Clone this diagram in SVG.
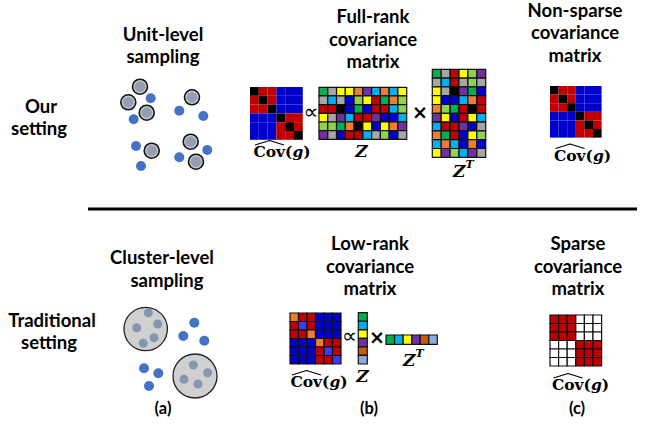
<svg xmlns="http://www.w3.org/2000/svg" xmlns:xlink="http://www.w3.org/1999/xlink" width="650" height="430" viewBox="0 0 650 430">
<style>
.t{font-family:Lato,"Liberation Sans",sans-serif;font-weight:bold;font-size:18.5px;fill:#000;text-anchor:middle}
.lab{font-family:Lato,"Liberation Sans",sans-serif;font-weight:bold;font-size:16.5px;fill:#000;text-anchor:middle}
.m{font-family:"DejaVu Serif","Liberation Serif",serif;font-weight:bold;font-size:15.5px;fill:#000;text-anchor:middle}
.zi{font-family:"DejaVu Serif","Liberation Serif",serif;font-weight:bold;font-style:italic;font-size:17px;fill:#000}
.op{font-family:"DejaVu Sans",sans-serif;font-size:21px;fill:#000;text-anchor:middle}
.x{font-family:"DejaVu Sans",sans-serif;font-weight:bold;font-size:19px;fill:#000;text-anchor:middle}
.hat{fill:none;stroke:#000;stroke-width:1.3;stroke-linejoin:round}
.cells rect{stroke:#111;stroke-width:1.2;vector-effect:non-scaling-stroke}
.k{fill:#000}.r{fill:#c00000}.b{fill:#0000cc}.B{fill:#3a3aff}.o{fill:#ed7d31}.O{fill:#c55a11}
.g{fill:#00b050}.l{fill:#92d050}.y{fill:#ffff00}.p{fill:#7030a0}.c{fill:#00b0f0}.s{fill:#a6a6a6}
.L{fill:#8eaadb}.w{fill:#fff}
.dot{fill:#4472c4}
.unit{fill:#c9c9c9;stroke:#111;stroke-width:1.6}
.unitIn{fill:#949eb5}
.clu{fill:#d0d0d0;stroke:#222;stroke-width:1.3}
.cin{fill:#8497b0}
</style>
<defs>
<g id="covFullCells">
<rect x="0" y="0" width="1" height="1" class="k"/><rect x="1" y="0" width="1" height="1" class="r"/><rect x="2" y="0" width="1" height="1" class="r"/><rect x="3" y="0" width="1" height="1" class="b"/><rect x="4" y="0" width="1" height="1" class="b"/><rect x="5" y="0" width="1" height="1" class="b"/>
<rect x="0" y="1" width="1" height="1" class="r"/><rect x="1" y="1" width="1" height="1" class="k"/><rect x="2" y="1" width="1" height="1" class="r"/><rect x="3" y="1" width="1" height="1" class="b"/><rect x="4" y="1" width="1" height="1" class="b"/><rect x="5" y="1" width="1" height="1" class="b"/>
<rect x="0" y="2" width="1" height="1" class="r"/><rect x="1" y="2" width="1" height="1" class="r"/><rect x="2" y="2" width="1" height="1" class="k"/><rect x="3" y="2" width="1" height="1" class="b"/><rect x="4" y="2" width="1" height="1" class="b"/><rect x="5" y="2" width="1" height="1" class="b"/>
<rect x="0" y="3" width="1" height="1" class="b"/><rect x="1" y="3" width="1" height="1" class="b"/><rect x="2" y="3" width="1" height="1" class="b"/><rect x="3" y="3" width="1" height="1" class="k"/><rect x="4" y="3" width="1" height="1" class="r"/><rect x="5" y="3" width="1" height="1" class="r"/>
<rect x="0" y="4" width="1" height="1" class="b"/><rect x="1" y="4" width="1" height="1" class="b"/><rect x="2" y="4" width="1" height="1" class="b"/><rect x="3" y="4" width="1" height="1" class="r"/><rect x="4" y="4" width="1" height="1" class="k"/><rect x="5" y="4" width="1" height="1" class="r"/>
<rect x="0" y="5" width="1" height="1" class="b"/><rect x="1" y="5" width="1" height="1" class="b"/><rect x="2" y="5" width="1" height="1" class="b"/><rect x="3" y="5" width="1" height="1" class="r"/><rect x="4" y="5" width="1" height="1" class="r"/><rect x="5" y="5" width="1" height="1" class="k"/>
</g>
<g id="covLabel">
<text class="m" x="0" y="0">Cov(<tspan font-style="italic">g</tspan>)</text>
<path class="hat" d="M-27,-12 L-12.5,-16.5 L2,-12"/>
</g>
</defs>

<!-- row headings -->
<g id="our-setting">
<text class="t" x="41" y="113">Our</text>
<text class="t" x="39" y="135">setting</text>
</g>
<g id="traditional-setting">
<text class="t" x="52" y="327">Traditional</text>
<text class="t" x="49" y="349">setting</text>
</g>

<!-- separator -->
<g id="connectors">
<line x1="88" y1="209" x2="637" y2="209" stroke="#000" stroke-width="3"/>
</g>

<!-- unit-level sampling -->
<g id="unit-level-sampling">
<text class="t" x="163" y="41">Unit-level</text>
<text class="t" x="163" y="63">sampling</text>
<circle class="unit" cx="140" cy="86.7" r="7.5"/><circle class="unitIn" cx="140" cy="86.7" r="5.4"/>
<circle class="unit" cx="128.3" cy="102.3" r="7.5"/><circle class="unitIn" cx="128.3" cy="102.3" r="5.4"/>
<circle class="unit" cx="146.7" cy="112.7" r="7.5"/><circle class="unitIn" cx="146.7" cy="112.7" r="5.4"/>
<circle class="unit" cx="192" cy="97.3" r="7.5"/><circle class="unitIn" cx="192" cy="97.3" r="5.4"/>
<circle class="unit" cx="151.7" cy="150.7" r="7.5"/><circle class="unitIn" cx="151.7" cy="150.7" r="5.4"/>
<circle class="unit" cx="190.7" cy="141.7" r="7.5"/><circle class="unitIn" cx="190.7" cy="141.7" r="5.4"/>
<circle class="unit" cx="196" cy="161.7" r="7.5"/><circle class="unitIn" cx="196" cy="161.7" r="5.4"/>
<circle class="dot" cx="150.7" cy="98.3" r="5"/>
<circle class="dot" cx="133.7" cy="119.3" r="5"/>
<circle class="dot" cx="179.3" cy="110.7" r="5"/>
<circle class="dot" cx="203.3" cy="116" r="5"/>
<circle class="dot" cx="136" cy="146" r="5"/>
<circle class="dot" cx="141" cy="166" r="5"/>
<circle class="dot" cx="179.3" cy="157.3" r="5"/>
<circle class="dot" cx="207.3" cy="150" r="5"/>
</g>

<!-- full-rank covariance -->
<g id="full-rank-covariance">
<text class="t" x="373" y="23">Full-rank</text>
<text class="t" x="373" y="46">covariance</text>
<text class="t" x="373" y="68">matrix</text>
<g class="cells" transform="translate(250,87) scale(8.8)"><use xlink:href="#covFullCells"/></g>
<use xlink:href="#covLabel" transform="translate(282,157)"/>
<text class="op" x="311" y="119">∝</text>
<g class="cells" transform="translate(319,87.3) scale(8.77,8.67)">
<rect x="0" y="0" width="1" height="1" class="g"/><rect x="1" y="0" width="1" height="1" class="s"/><rect x="2" y="0" width="1" height="1" class="y"/><rect x="3" y="0" width="1" height="1" class="y"/><rect x="4" y="0" width="1" height="1" class="o"/><rect x="5" y="0" width="1" height="1" class="p"/><rect x="6" y="0" width="1" height="1" class="c"/><rect x="7" y="0" width="1" height="1" class="o"/><rect x="8" y="0" width="1" height="1" class="c"/><rect x="9" y="0" width="1" height="1" class="y"/>
<rect x="0" y="1" width="1" height="1" class="s"/><rect x="1" y="1" width="1" height="1" class="c"/><rect x="2" y="1" width="1" height="1" class="s"/><rect x="3" y="1" width="1" height="1" class="b"/><rect x="4" y="1" width="1" height="1" class="l"/><rect x="5" y="1" width="1" height="1" class="y"/><rect x="6" y="1" width="1" height="1" class="r"/><rect x="7" y="1" width="1" height="1" class="g"/><rect x="8" y="1" width="1" height="1" class="o"/><rect x="9" y="1" width="1" height="1" class="l"/>
<rect x="0" y="2" width="1" height="1" class="r"/><rect x="1" y="2" width="1" height="1" class="r"/><rect x="2" y="2" width="1" height="1" class="k"/><rect x="3" y="2" width="1" height="1" class="b"/><rect x="4" y="2" width="1" height="1" class="g"/><rect x="5" y="2" width="1" height="1" class="b"/><rect x="6" y="2" width="1" height="1" class="r"/><rect x="7" y="2" width="1" height="1" class="r"/><rect x="8" y="2" width="1" height="1" class="c"/><rect x="9" y="2" width="1" height="1" class="l"/>
<rect x="0" y="3" width="1" height="1" class="y"/><rect x="1" y="3" width="1" height="1" class="s"/><rect x="2" y="3" width="1" height="1" class="p"/><rect x="3" y="3" width="1" height="1" class="c"/><rect x="4" y="3" width="1" height="1" class="r"/><rect x="5" y="3" width="1" height="1" class="r"/><rect x="6" y="3" width="1" height="1" class="p"/><rect x="7" y="3" width="1" height="1" class="b"/><rect x="8" y="3" width="1" height="1" class="b"/><rect x="9" y="3" width="1" height="1" class="c"/>
<rect x="0" y="4" width="1" height="1" class="l"/><rect x="1" y="4" width="1" height="1" class="l"/><rect x="2" y="4" width="1" height="1" class="g"/><rect x="3" y="4" width="1" height="1" class="o"/><rect x="4" y="4" width="1" height="1" class="k"/><rect x="5" y="4" width="1" height="1" class="y"/><rect x="6" y="4" width="1" height="1" class="b"/><rect x="7" y="4" width="1" height="1" class="y"/><rect x="8" y="4" width="1" height="1" class="o"/><rect x="9" y="4" width="1" height="1" class="p"/>
<rect x="0" y="5" width="1" height="1" class="p"/><rect x="1" y="5" width="1" height="1" class="s"/><rect x="2" y="5" width="1" height="1" class="b"/><rect x="3" y="5" width="1" height="1" class="r"/><rect x="4" y="5" width="1" height="1" class="r"/><rect x="5" y="5" width="1" height="1" class="c"/><rect x="6" y="5" width="1" height="1" class="s"/><rect x="7" y="5" width="1" height="1" class="l"/><rect x="8" y="5" width="1" height="1" class="b"/><rect x="9" y="5" width="1" height="1" class="s"/>
</g>
<text class="zi" x="361.5" y="157" text-anchor="middle">Z</text>
<text class="x" x="420" y="119">×</text>
<g class="cells" transform="translate(432.3,69.3) scale(8.9,8.8)">
<rect x="0" y="0" width="1" height="1" class="g"/><rect x="1" y="0" width="1" height="1" class="s"/><rect x="2" y="0" width="1" height="1" class="r"/><rect x="3" y="0" width="1" height="1" class="y"/><rect x="4" y="0" width="1" height="1" class="l"/><rect x="5" y="0" width="1" height="1" class="p"/>
<rect x="0" y="1" width="1" height="1" class="s"/><rect x="1" y="1" width="1" height="1" class="c"/><rect x="2" y="1" width="1" height="1" class="r"/><rect x="3" y="1" width="1" height="1" class="s"/><rect x="4" y="1" width="1" height="1" class="l"/><rect x="5" y="1" width="1" height="1" class="s"/>
<rect x="0" y="2" width="1" height="1" class="y"/><rect x="1" y="2" width="1" height="1" class="s"/><rect x="2" y="2" width="1" height="1" class="k"/><rect x="3" y="2" width="1" height="1" class="p"/><rect x="4" y="2" width="1" height="1" class="g"/><rect x="5" y="2" width="1" height="1" class="b"/>
<rect x="0" y="3" width="1" height="1" class="y"/><rect x="1" y="3" width="1" height="1" class="b"/><rect x="2" y="3" width="1" height="1" class="b"/><rect x="3" y="3" width="1" height="1" class="c"/><rect x="4" y="3" width="1" height="1" class="o"/><rect x="5" y="3" width="1" height="1" class="r"/>
<rect x="0" y="4" width="1" height="1" class="o"/><rect x="1" y="4" width="1" height="1" class="l"/><rect x="2" y="4" width="1" height="1" class="g"/><rect x="3" y="4" width="1" height="1" class="r"/><rect x="4" y="4" width="1" height="1" class="k"/><rect x="5" y="4" width="1" height="1" class="r"/>
<rect x="0" y="5" width="1" height="1" class="p"/><rect x="1" y="5" width="1" height="1" class="y"/><rect x="2" y="5" width="1" height="1" class="b"/><rect x="3" y="5" width="1" height="1" class="r"/><rect x="4" y="5" width="1" height="1" class="y"/><rect x="5" y="5" width="1" height="1" class="c"/>
<rect x="0" y="6" width="1" height="1" class="c"/><rect x="1" y="6" width="1" height="1" class="r"/><rect x="2" y="6" width="1" height="1" class="r"/><rect x="3" y="6" width="1" height="1" class="p"/><rect x="4" y="6" width="1" height="1" class="b"/><rect x="5" y="6" width="1" height="1" class="s"/>
<rect x="0" y="7" width="1" height="1" class="o"/><rect x="1" y="7" width="1" height="1" class="g"/><rect x="2" y="7" width="1" height="1" class="r"/><rect x="3" y="7" width="1" height="1" class="b"/><rect x="4" y="7" width="1" height="1" class="y"/><rect x="5" y="7" width="1" height="1" class="l"/>
<rect x="0" y="8" width="1" height="1" class="c"/><rect x="1" y="8" width="1" height="1" class="o"/><rect x="2" y="8" width="1" height="1" class="c"/><rect x="3" y="8" width="1" height="1" class="b"/><rect x="4" y="8" width="1" height="1" class="o"/><rect x="5" y="8" width="1" height="1" class="b"/>
<rect x="0" y="9" width="1" height="1" class="y"/><rect x="1" y="9" width="1" height="1" class="p"/><rect x="2" y="9" width="1" height="1" class="l"/><rect x="3" y="9" width="1" height="1" class="c"/><rect x="4" y="9" width="1" height="1" class="p"/><rect x="5" y="9" width="1" height="1" class="s"/>
</g>
<text class="zi" x="453" y="177">Z<tspan font-size="11" dy="-9">T</tspan></text>
</g>

<!-- non-sparse covariance -->
<g id="non-sparse-covariance">
<text class="t" x="575" y="17">Non-sparse</text>
<text class="t" x="575" y="39">covariance</text>
<text class="t" x="575" y="62">matrix</text>
<g class="cells" transform="translate(550,86) scale(8.6)"><use xlink:href="#covFullCells"/></g>
<use xlink:href="#covLabel" transform="translate(582.5,160.5)"/>
</g>

<!-- cluster-level sampling -->
<g id="cluster-level-sampling">
<text class="t" x="162" y="264">Cluster-level</text>
<text class="t" x="167" y="287">sampling</text>
<circle class="clu" cx="145.7" cy="329" r="21.7"/>
<circle class="cin" cx="148.3" cy="312.7" r="4.5"/>
<circle class="cin" cx="136.7" cy="327.7" r="4.5"/>
<circle class="cin" cx="157.7" cy="324" r="4.5"/>
<circle class="cin" cx="154" cy="337.7" r="4.5"/>
<circle class="cin" cx="143.3" cy="343.3" r="4.5"/>
<circle class="clu" cx="195" cy="376" r="22"/>
<circle class="cin" cx="193.3" cy="365" r="4.5"/>
<circle class="cin" cx="207.7" cy="372.7" r="4.5"/>
<circle class="cin" cx="184" cy="379.3" r="4.5"/>
<circle class="cin" cx="198" cy="384" r="4.5"/>
<circle class="dot" cx="194.3" cy="322.7" r="5"/>
<circle class="dot" cx="183.3" cy="336" r="5"/>
<circle class="dot" cx="204.3" cy="340.7" r="5"/>
<circle class="dot" cx="144" cy="368.3" r="5"/>
<circle class="dot" cx="158.3" cy="373.3" r="5"/>
<circle class="dot" cx="149" cy="386" r="5"/>
</g>

<!-- low-rank covariance -->
<g id="low-rank-covariance">
<text class="t" x="370" y="250">Low-rank</text>
<text class="t" x="370" y="273">covariance</text>
<text class="t" x="370" y="295">matrix</text>
<g class="cells" transform="translate(290,313) scale(8.5)">
<rect x="0" y="0" width="1" height="1" class="o"/><rect x="1" y="0" width="1" height="1" class="r"/><rect x="2" y="0" width="1" height="1" class="r"/><rect x="3" y="0" width="1" height="1" class="b"/><rect x="4" y="0" width="1" height="1" class="b"/><rect x="5" y="0" width="1" height="1" class="b"/>
<rect x="0" y="1" width="1" height="1" class="r"/><rect x="1" y="1" width="1" height="1" class="B"/><rect x="2" y="1" width="1" height="1" class="r"/><rect x="3" y="1" width="1" height="1" class="b"/><rect x="4" y="1" width="1" height="1" class="b"/><rect x="5" y="1" width="1" height="1" class="b"/>
<rect x="0" y="2" width="1" height="1" class="r"/><rect x="1" y="2" width="1" height="1" class="r"/><rect x="2" y="2" width="1" height="1" class="o"/><rect x="3" y="2" width="1" height="1" class="b"/><rect x="4" y="2" width="1" height="1" class="b"/><rect x="5" y="2" width="1" height="1" class="b"/>
<rect x="0" y="3" width="1" height="1" class="b"/><rect x="1" y="3" width="1" height="1" class="b"/><rect x="2" y="3" width="1" height="1" class="b"/><rect x="3" y="3" width="1" height="1" class="o"/><rect x="4" y="3" width="1" height="1" class="r"/><rect x="5" y="3" width="1" height="1" class="r"/>
<rect x="0" y="4" width="1" height="1" class="b"/><rect x="1" y="4" width="1" height="1" class="b"/><rect x="2" y="4" width="1" height="1" class="b"/><rect x="3" y="4" width="1" height="1" class="r"/><rect x="4" y="4" width="1" height="1" class="B"/><rect x="5" y="4" width="1" height="1" class="r"/>
<rect x="0" y="5" width="1" height="1" class="b"/><rect x="1" y="5" width="1" height="1" class="b"/><rect x="2" y="5" width="1" height="1" class="b"/><rect x="3" y="5" width="1" height="1" class="r"/><rect x="4" y="5" width="1" height="1" class="r"/><rect x="5" y="5" width="1" height="1" class="B"/>
</g>
<use xlink:href="#covLabel" transform="translate(319,387)"/>
<text class="op" x="349.5" y="343">∝</text>
<g class="cells" transform="translate(358.3,312.7) scale(9,8.55)">
<rect x="0" y="0" width="1" height="1" class="g"/>
<rect x="0" y="1" width="1" height="1" class="c"/>
<rect x="0" y="2" width="1" height="1" class="y"/>
<rect x="0" y="3" width="1" height="1" class="p"/>
<rect x="0" y="4" width="1" height="1" class="O"/>
<rect x="0" y="5" width="1" height="1" class="L"/>
</g>
<text class="zi" x="362.5" y="381.7" text-anchor="middle">Z</text>
<text class="x" x="377" y="344">×</text>
<g class="cells" transform="translate(386,335) scale(8.55,9.3)">
<rect x="0" y="0" width="1" height="1" class="g"/><rect x="1" y="0" width="1" height="1" class="c"/><rect x="2" y="0" width="1" height="1" class="y"/><rect x="3" y="0" width="1" height="1" class="p"/><rect x="4" y="0" width="1" height="1" class="O"/><rect x="5" y="0" width="1" height="1" class="L"/>
</g>
<text class="zi" x="403" y="366">Z<tspan font-size="11" dy="-9">T</tspan></text>
</g>

<!-- sparse covariance -->
<g id="sparse-covariance">
<text class="t" x="578" y="250">Sparse</text>
<text class="t" x="578" y="273">covariance</text>
<text class="t" x="578" y="295">matrix</text>
<g class="cells" transform="translate(550,315) scale(8.6,8.5)">
<rect x="0" y="0" width="1" height="1" class="r"/><rect x="1" y="0" width="1" height="1" class="r"/><rect x="2" y="0" width="1" height="1" class="r"/><rect x="3" y="0" width="1" height="1" class="w"/><rect x="4" y="0" width="1" height="1" class="w"/><rect x="5" y="0" width="1" height="1" class="w"/>
<rect x="0" y="1" width="1" height="1" class="r"/><rect x="1" y="1" width="1" height="1" class="r"/><rect x="2" y="1" width="1" height="1" class="r"/><rect x="3" y="1" width="1" height="1" class="w"/><rect x="4" y="1" width="1" height="1" class="w"/><rect x="5" y="1" width="1" height="1" class="w"/>
<rect x="0" y="2" width="1" height="1" class="r"/><rect x="1" y="2" width="1" height="1" class="r"/><rect x="2" y="2" width="1" height="1" class="r"/><rect x="3" y="2" width="1" height="1" class="w"/><rect x="4" y="2" width="1" height="1" class="w"/><rect x="5" y="2" width="1" height="1" class="w"/>
<rect x="0" y="3" width="1" height="1" class="w"/><rect x="1" y="3" width="1" height="1" class="w"/><rect x="2" y="3" width="1" height="1" class="w"/><rect x="3" y="3" width="1" height="1" class="r"/><rect x="4" y="3" width="1" height="1" class="r"/><rect x="5" y="3" width="1" height="1" class="r"/>
<rect x="0" y="4" width="1" height="1" class="w"/><rect x="1" y="4" width="1" height="1" class="w"/><rect x="2" y="4" width="1" height="1" class="w"/><rect x="3" y="4" width="1" height="1" class="r"/><rect x="4" y="4" width="1" height="1" class="r"/><rect x="5" y="4" width="1" height="1" class="r"/>
<rect x="0" y="5" width="1" height="1" class="w"/><rect x="1" y="5" width="1" height="1" class="w"/><rect x="2" y="5" width="1" height="1" class="w"/><rect x="3" y="5" width="1" height="1" class="r"/><rect x="4" y="5" width="1" height="1" class="r"/><rect x="5" y="5" width="1" height="1" class="r"/>
</g>
<use xlink:href="#covLabel" transform="translate(580.5,390)"/>
</g>

<!-- panel labels -->
<g id="panel-labels">
<text class="lab" x="163" y="414">(a)</text>
<text class="lab" x="369" y="414">(b)</text>
<text class="lab" x="577" y="414">(c)</text>
</g>
</svg>
